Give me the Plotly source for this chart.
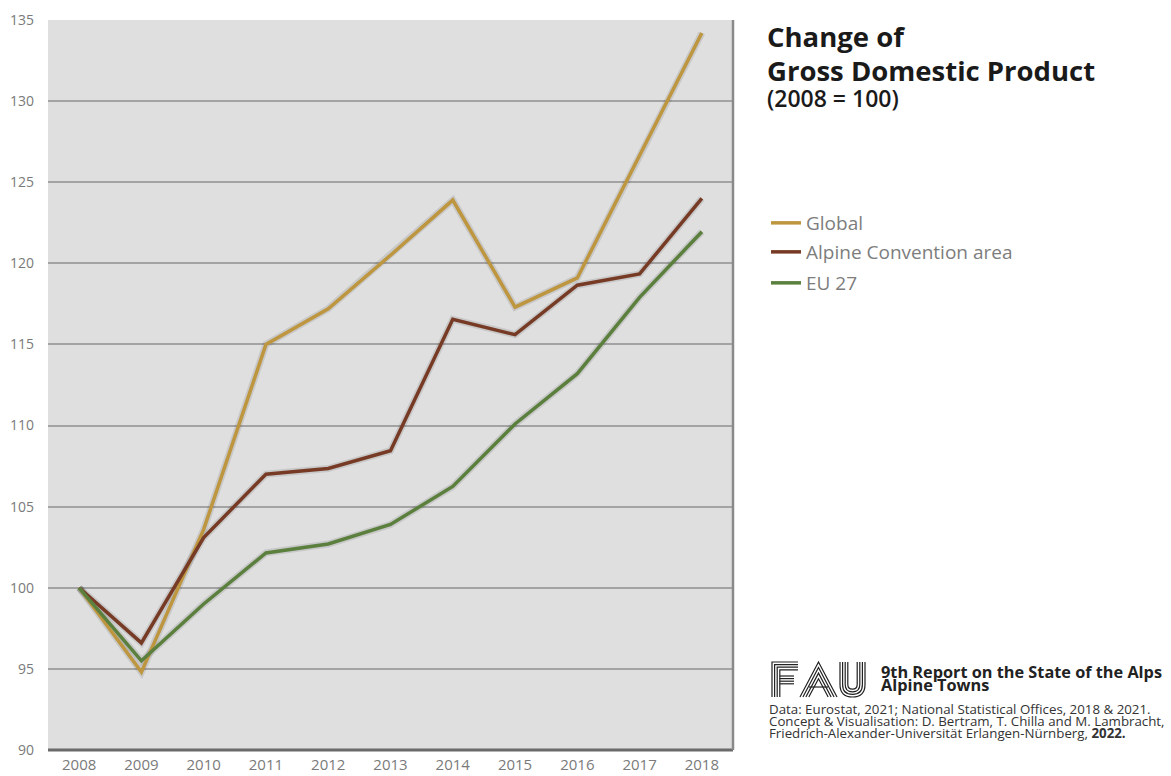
import plotly.graph_objects as go

years = [2008, 2009, 2010, 2011, 2012, 2013, 2014, 2015, 2016, 2017, 2018]
global_vals = [100, 94.8, 103.6, 115.0, 117.2, 120.5, 123.9, 117.3, 119.1, 126.6, 134.2]
alpine_vals = [100, 96.6, 103.1, 107.0, 107.35, 108.45, 116.55, 115.6, 118.65, 119.35, 124.0]
eu_vals = [100, 95.5, 99.0, 102.15, 102.7, 103.9, 106.25, 110.1, 113.2, 117.9, 121.95]
series_names = ["Global", "Alpine Convention area", "EU 27"]
series_colors = ["#bd963f", "#773b25", "#5b7f3d"]
y_ticks = [90, 95, 100, 105, 110, 115, 120, 125, 130, 135]

FONT = "Open Sans"
fig = go.Figure()

W, H = 1171, 776
L, R, T, B = 48, 438, 20, 26
pw, ph = W - L - R, H - T - B

def px(x):
    return (x - L) / pw

def py(y):
    return (H - B - y) / ph

all_vals = [global_vals, alpine_vals, eu_vals]
for vals in all_vals:
    fig.add_trace(go.Scatter(x=years, y=vals, mode="lines", showlegend=False, hoverinfo="skip",
                             line=dict(color="rgba(0,0,0,0.10)", width=7)))
legend_ids = ["legend", "legend2", "legend3"]
for name, vals, col, lg in zip(series_names, all_vals, series_colors, legend_ids):
    fig.add_trace(go.Scatter(x=years, y=vals, mode="lines", name=name, legend=lg,
                             line=dict(color=col, width=3.5)))

legend_centers = [223, 252, 283]
leg_common = dict(xanchor="left", yanchor="middle", bgcolor="rgba(0,0,0,0)",
                  font=dict(size=19, color="#7d7d7d", family=FONT), itemwidth=30)

fig.update_layout(
    width=W, height=H,
    margin=dict(l=L, r=R, t=T, b=B, autoexpand=False),
    paper_bgcolor="white",
    plot_bgcolor="#dfdfdf",
    font=dict(family=FONT, color="#777777"),
    showlegend=True,
    legend=dict(x=px(766), y=py(legend_centers[0]), **leg_common),
    legend2=dict(x=px(766), y=py(legend_centers[1]), **leg_common),
    legend3=dict(x=px(766), y=py(legend_centers[2]), **leg_common),
    xaxis=dict(range=[2007.5, 2018.5], tickvals=years, ticktext=[str(y) for y in years],
               showgrid=False, zeroline=False, showline=False, automargin=False,
               tickfont=dict(size=15, color="#7a7a7a"), ticks="", ticklabelstandoff=4),
    yaxis=dict(range=[90, 135], tickvals=y_ticks, showgrid=True, gridcolor="#a3a3a3", gridwidth=2,
               zeroline=False, showline=False, ticks="", automargin=False,
               tickfont=dict(size=14, color="#7a7a7a"), ticklabelstandoff=13),
)

# plot frame shadow (bottom and right edges)
fig.add_shape(type="line", xref="paper", yref="paper", x0=0, x1=1, y0=0, y1=0,
              line=dict(color="#6a6a6a", width=3))
fig.add_shape(type="line", xref="paper", yref="paper", x0=1, x1=1, y0=0, y1=1,
              line=dict(color="#8a8a8a", width=2.5))

def ann(text, x, yc, size, color="#1a1a1a", weight=400):
    fig.add_annotation(xref="paper", yref="paper", x=px(x), y=py(yc), xanchor="left", yanchor="middle",
                       align="left", showarrow=False, text=text,
                       font=dict(size=size, color=color, family=FONT, weight=weight))

# Title
ann("Change of", 765, 36, 27.5, weight=700)
ann("Gross Domestic Product", 765, 70, 27.5, weight=700)
ann("(2008 = 100)", 765, 98, 23, color="#1a1a1a", weight=600)

# Report text
ann("9th Report on the State of the Alps", 879, 672, 16.3, color="#222222", weight=700)
ann("Alpine Towns", 879, 685, 16.3, color="#222222", weight=700)
ann("Data: Eurostat, 2021; National Statistical Offices, 2018 &amp; 2021.", 767, 709, 13.3, color="#333333")
ann("Concept &amp; Visualisation: D. Bertram, T. Chilla and M. Lambracht,", 767, 721, 13.3, color="#333333")
ann("Friedrich-Alexander-Universität Erlangen-Nürnberg, <b>2022.</b>", 767, 733, 13.3, color="#333333")

# FAU logo drawn with nested stripes
def P(x, y):
    return f"{px(x):.5f},{py(y):.5f}"

d = 2.6
logo_paths = []
for k in range(4):
    o = k * d
    logo_paths.append(f"M{P(798, 662 + o)} L{P(772 + o, 662 + o)} L{P(772 + o, 697)}")
    logo_paths.append(f"M{P(772 + 3 * d, 676 + o)} L{P(794, 676 + o)}")
    h = o * 1.13
    ay = 662 + h * 35 / 18.5
    logo_paths.append(f"M{P(800 + h, 697)} L{P(818.5, ay)} L{P(837 - h, 697)}")
    xl, xr, yb = 840 + o, 865 - o, 697 - o
    r = (xr - xl) / 2
    logo_paths.append(f"M{P(xl, 662)} L{P(xl, yb - r)} Q{P(xl, yb)} {P(xl + r, yb)} Q{P(xr, yb)} {P(xr, yb - r)} L{P(xr, 662)}")
logo_paths.append(f"M{P(809, 687)} L{P(828, 687)}")
for pth in logo_paths:
    fig.add_shape(type="path", xref="paper", yref="paper", path=pth,
                  line=dict(color="#222222", width=1.2))

fig.write_html("out.html", config={"displayModeBar": False},
               post_script="document.body.style.margin='0';")
